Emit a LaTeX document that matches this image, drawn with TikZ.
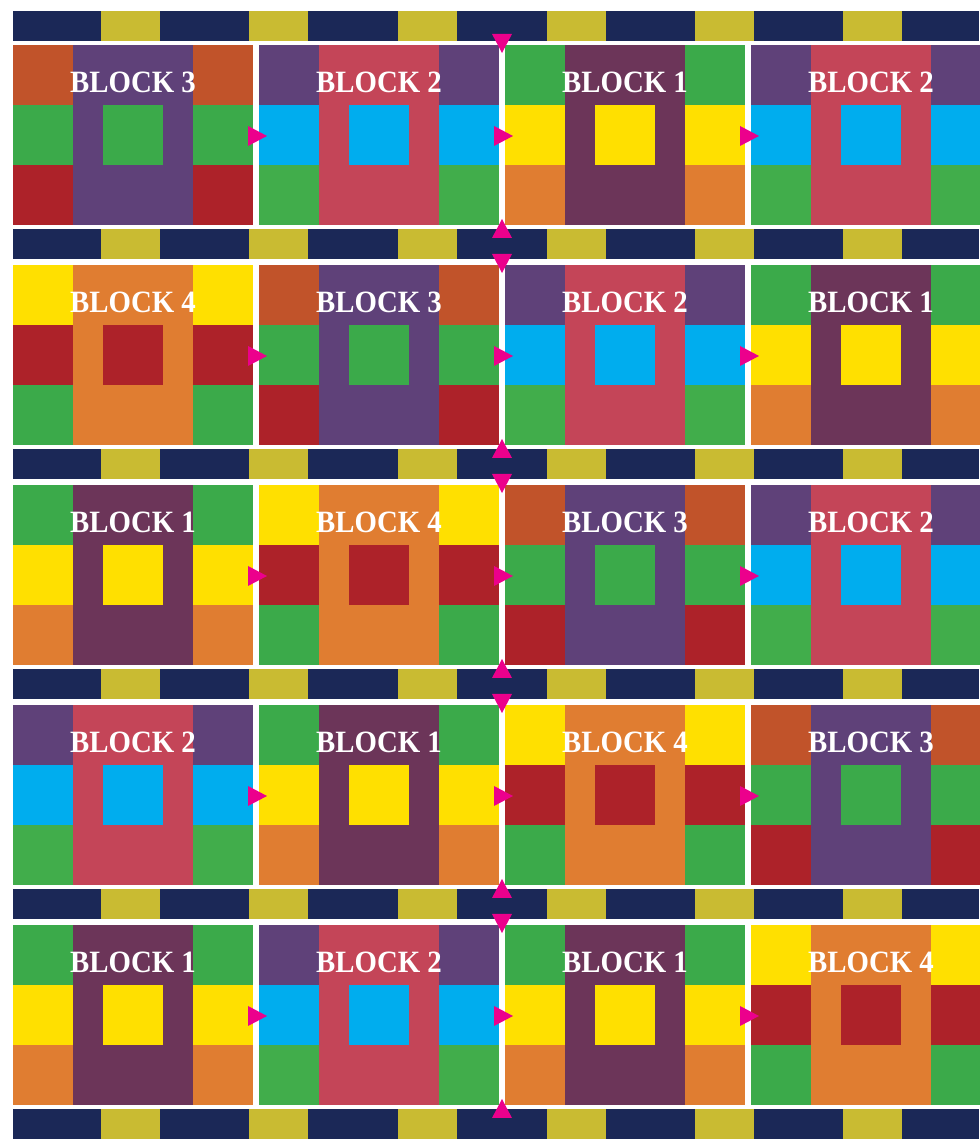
\documentclass[tikz,border=0pt]{standalone}
\usepackage{fontspec}
\newfontfamily\labelfont[FakeStretch=0.93]{Liberation Serif}
\usepackage{xcolor}
\usepackage{tikz}
\usetikzlibrary{positioning,calc}

\definecolor{stripnavy}{HTML}{1B2857}
\definecolor{stripgold}{HTML}{C9BB32}
\definecolor{tileplum}{HTML}{6C3559}
\definecolor{tilerose}{HTML}{C44558}
\definecolor{tilepurple}{HTML}{5F4179}
\definecolor{tilerust}{HTML}{C1532A}
\definecolor{tilegreen}{HTML}{3BAA4A}
\definecolor{tilegreenb}{HTML}{41AD4B}
\definecolor{tilered}{HTML}{AD2229}
\definecolor{tilecyan}{HTML}{00ADEE}
\definecolor{tileyellow}{HTML}{FFE000}
\definecolor{tileorange}{HTML}{E07D31}
\definecolor{pointermagenta}{HTML}{EC008C}

% centre column, then the three side bands and the inner square
\newcommand{\tilefill}[4]{%
    \fill[#2] (path picture bounding box.north west) rectangle ($(path picture bounding box.north east)!1/3!(path picture bounding box.south east)$);
    \fill[#3] ($(path picture bounding box.north west)!1/3!(path picture bounding box.south west)$) rectangle ($(path picture bounding box.north east)!2/3!(path picture bounding box.south east)$);
    \fill[#4] ($(path picture bounding box.north west)!2/3!(path picture bounding box.south west)$) rectangle (path picture bounding box.south east);
    \fill[#1] ($(path picture bounding box.north)+(-60pt,0)$) rectangle ($(path picture bounding box.south)+(60pt,0)$);
    \fill[#3] ($(path picture bounding box.center)+(-30pt,-30pt)$) rectangle ($(path picture bounding box.center)+(30pt,30pt)$);
}

\newcommand{\rightpointer}[2]{%
    \fill[pointer] ($(#1.east)!.5!(#2.west)$) ++(-8pt,9pt) -- ++(19pt,-10pt) -- ++(-19pt,-10pt) -- cycle;}
\newcommand{\downpointer}[2]{%
    \fill[pointer] ($(#1.north east)!.5!(#2.north west)$) ++(-10pt,11pt) -- ++(20pt,0) -- ++(-10pt,-19pt) -- cycle;}
\newcommand{\uppointer}[2]{%
    \fill[pointer] ($(#1.south east)!.5!(#2.south west)$) ++(0,6pt) -- ++(10pt,-19pt) -- ++(-20pt,0) -- cycle;}

\begin{document}
\begin{tikzpicture}[
        x=1pt, y=1pt,
        node distance=40pt and 6pt,
        tilebox/.style={
            minimum width=240pt,
            minimum height=180pt,
            inner sep=0pt,
            outer sep=0pt,
            text=white,
            font=\labelfont\bfseries\fontsize{31}{31}\selectfont,
            text height=22pt,
            text depth=107pt
        },
        blockone/.style={tilebox, path picture={\tilefill{tileplum}{tilegreen}{tileyellow}{tileorange}}},
        blocktwo/.style={tilebox, path picture={\tilefill{tilerose}{tilepurple}{tilecyan}{tilegreenb}}},
        blockthree/.style={tilebox, path picture={\tilefill{tilepurple}{tilerust}{tilegreen}{tilered}}},
        blockfour/.style={tilebox, path picture={\tilefill{tileorange}{tileyellow}{tilered}{tilegreen}}},
        strip/.style={
            minimum width=966pt,
            minimum height=30pt,
            inner sep=0pt,
            outer sep=0pt,
            fill=stripnavy,
            path picture={
                \foreach \gx in {88,236,385,534,682,830}
                    \fill[stripgold] ($(path picture bounding box.north west)+(\gx pt,0)$) rectangle ($(path picture bounding box.south west)+(\gx pt+59pt,0)$);
            }
        },
        pointer/.style={fill=pointermagenta}
    ]

    \useasboundingbox (0,0) rectangle (979,1139);

    % row 1
    \node[blockthree] (b11) at (133,1004) {BLOCK 3};
    \node[blocktwo, right=of b11] (b12) {BLOCK 2};
    \node[blockone, right=of b12] (b13) {BLOCK 1};
    \node[blocktwo, right=of b13] (b14) {BLOCK 2};

    % row 2
    \node[blockfour, below=of b11] (b21) {BLOCK 4};
    \node[blockthree, right=of b21] (b22) {BLOCK 3};
    \node[blocktwo, right=of b22] (b23) {BLOCK 2};
    \node[blockone, right=of b23] (b24) {BLOCK 1};

    % row 3
    \node[blockone, below=of b21] (b31) {BLOCK 1};
    \node[blockfour, right=of b31] (b32) {BLOCK 4};
    \node[blockthree, right=of b32] (b33) {BLOCK 3};
    \node[blocktwo, right=of b33] (b34) {BLOCK 2};

    % row 4
    \node[blocktwo, below=of b31] (b41) {BLOCK 2};
    \node[blockone, right=of b41] (b42) {BLOCK 1};
    \node[blockfour, right=of b42] (b43) {BLOCK 4};
    \node[blockthree, right=of b43] (b44) {BLOCK 3};

    % row 5
    \node[blockone, below=of b41] (b51) {BLOCK 1};
    \node[blocktwo, right=of b51] (b52) {BLOCK 2};
    \node[blockone, right=of b52] (b53) {BLOCK 1};
    \node[blockfour, right=of b53] (b54) {BLOCK 4};

    % navy and gold bands
    \node[strip, above=4pt of b11.north west, anchor=south west] (s1) {};
    \node[strip, below=4pt of b11.south west, anchor=north west] (s2) {};
    \node[strip, below=4pt of b21.south west, anchor=north west] (s3) {};
    \node[strip, below=4pt of b31.south west, anchor=north west] (s4) {};
    \node[strip, below=4pt of b41.south west, anchor=north west] (s5) {};
    \node[strip, below=4pt of b51.south west, anchor=north west] (s6) {};

    % pointers
    \rightpointer{b11}{b12} \rightpointer{b12}{b13} \rightpointer{b13}{b14}
    \downpointer{b12}{b13} \uppointer{b12}{b13}
    \rightpointer{b21}{b22} \rightpointer{b22}{b23} \rightpointer{b23}{b24}
    \downpointer{b22}{b23} \uppointer{b22}{b23}
    \rightpointer{b31}{b32} \rightpointer{b32}{b33} \rightpointer{b33}{b34}
    \downpointer{b32}{b33} \uppointer{b32}{b33}
    \rightpointer{b41}{b42} \rightpointer{b42}{b43} \rightpointer{b43}{b44}
    \downpointer{b42}{b43} \uppointer{b42}{b43}
    \rightpointer{b51}{b52} \rightpointer{b52}{b53} \rightpointer{b53}{b54}
    \downpointer{b52}{b53} \uppointer{b52}{b53}

\end{tikzpicture}
\end{document}
